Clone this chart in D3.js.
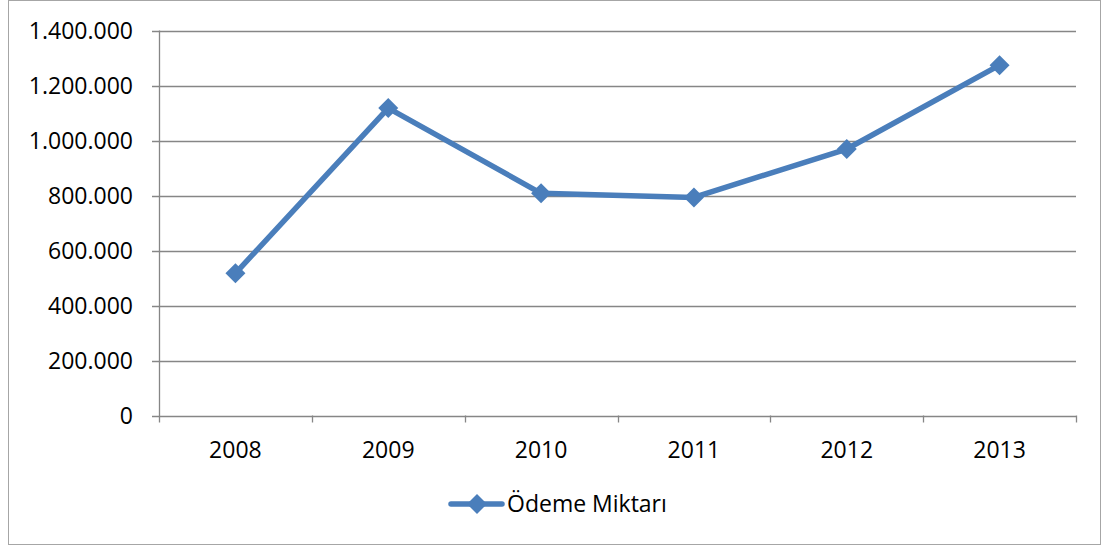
<!DOCTYPE html>
<meta charset="utf-8">
<style>

body {
  margin: 0;
  background: #fff;
}

text {
  font-family: "Open Sans", "Liberation Sans", sans-serif;
  font-size: 23px;
  fill: #000;
}

.grid line {
  stroke: #868686;
  stroke-width: 1.3px;
}

</style>
<body>
<script src="https://cdn.jsdelivr.net/npm/d3@7"></script>
<script>

var years = ["2008", "2009", "2010", "2011", "2012", "2013"],
    payments = [517000, 1118000, 808000, 793000, 969000, 1274000],
    yTicks = [0, 200000, 400000, 600000, 800000, 1000000, 1200000, 1400000],
    seriesName = "Ödeme Miktarı";

var w = 1105,
    h = 546,
    plotLeft = 159,
    plotRight = 1076,
    plotTop = 30.5,
    plotBottom = 415.5,
    blue = "#4a7ebb";

var svg = d3.select("body").append("svg")
    .attr("width", w)
    .attr("height", h);

svg.append("rect")
    .attr("x", 8.5)
    .attr("y", 0.5)
    .attr("width", 1092)
    .attr("height", 544)
    .attr("fill", "#fff")
    .attr("stroke", "#a6a6a6");

var x = d3.scaleBand()
    .domain(years)
    .range([plotLeft, plotRight]);

var y = d3.scaleLinear()
    .domain([0, 1400000])
    .range([plotBottom, plotTop]);

var fmt = function(v) { return d3.format(",")(v).replace(/,/g, "."); };

// horizontal gridlines, with small ticks sticking out left
var grid = svg.append("g").attr("class", "grid");

grid.selectAll("line.h")
    .data(yTicks)
  .enter().append("line")
    .attr("class", "h")
    .attr("x1", plotLeft - 7)
    .attr("x2", plotRight)
    .attr("y1", function(d) { return Math.round(y(d)) + 0.5; })
    .attr("y2", function(d) { return Math.round(y(d)) + 0.5; });

grid.append("line")
    .attr("x1", plotLeft + 0.5)
    .attr("x2", plotLeft + 0.5)
    .attr("y1", y(1400000))
    .attr("y2", y(0) + 7);

grid.selectAll("line.t")
    .data(years)
  .enter().append("line")
    .attr("class", "t")
    .attr("x1", function(d) { return Math.round(x(d) + x.bandwidth()) + 0.5; })
    .attr("x2", function(d) { return Math.round(x(d) + x.bandwidth()) + 0.5; })
    .attr("y1", y(0))
    .attr("y2", y(0) + 7);

svg.selectAll("text.ylab")
    .data(yTicks)
  .enter().append("text")
    .attr("class", "ylab")
    .attr("x", 133)
    .attr("y", function(d) { return y(d); })
    .attr("dy", "0.35em")
    .attr("text-anchor", "end")
    .text(fmt);

svg.selectAll("text.xlab")
    .data(years)
  .enter().append("text")
    .attr("class", "xlab")
    .attr("x", function(d) { return x(d) + x.bandwidth() / 2; })
    .attr("y", 450)
    .attr("dy", "0.35em")
    .attr("text-anchor", "middle")
    .text(function(d) { return d; });

var line = d3.line()
    .x(function(d, i) { return x(years[i]) + x.bandwidth() / 2; })
    .y(function(d) { return y(d); });

svg.append("path")
    .datum(payments)
    .attr("d", line)
    .attr("fill", "none")
    .attr("stroke", blue)
    .attr("stroke-width", 5.5)
    .attr("stroke-linejoin", "round");

var diamond = d3.symbol().type(d3.symbolSquare).size(200);

svg.selectAll("path.pt")
    .data(payments)
  .enter().append("path")
    .attr("class", "pt")
    .attr("d", diamond)
    .attr("fill", blue)
    .attr("transform", function(d, i) {
      return "translate(" + (x(years[i]) + x.bandwidth() / 2) + "," + y(d) + ")rotate(45)";
    });

// legend
var legend = svg.append("g").attr("transform", "translate(0,504)");

legend.append("line")
    .attr("x1", 451)
    .attr("x2", 502)
    .attr("stroke", blue)
    .attr("stroke-width", 5.5)
    .attr("stroke-linecap", "round");

legend.append("path")
    .attr("d", diamond)
    .attr("fill", blue)
    .attr("transform", "translate(477,0)rotate(45)");

legend.append("text")
    .attr("x", 507)
    .attr("dy", "0.35em")
    .text(seriesName);

</script>
</body>
